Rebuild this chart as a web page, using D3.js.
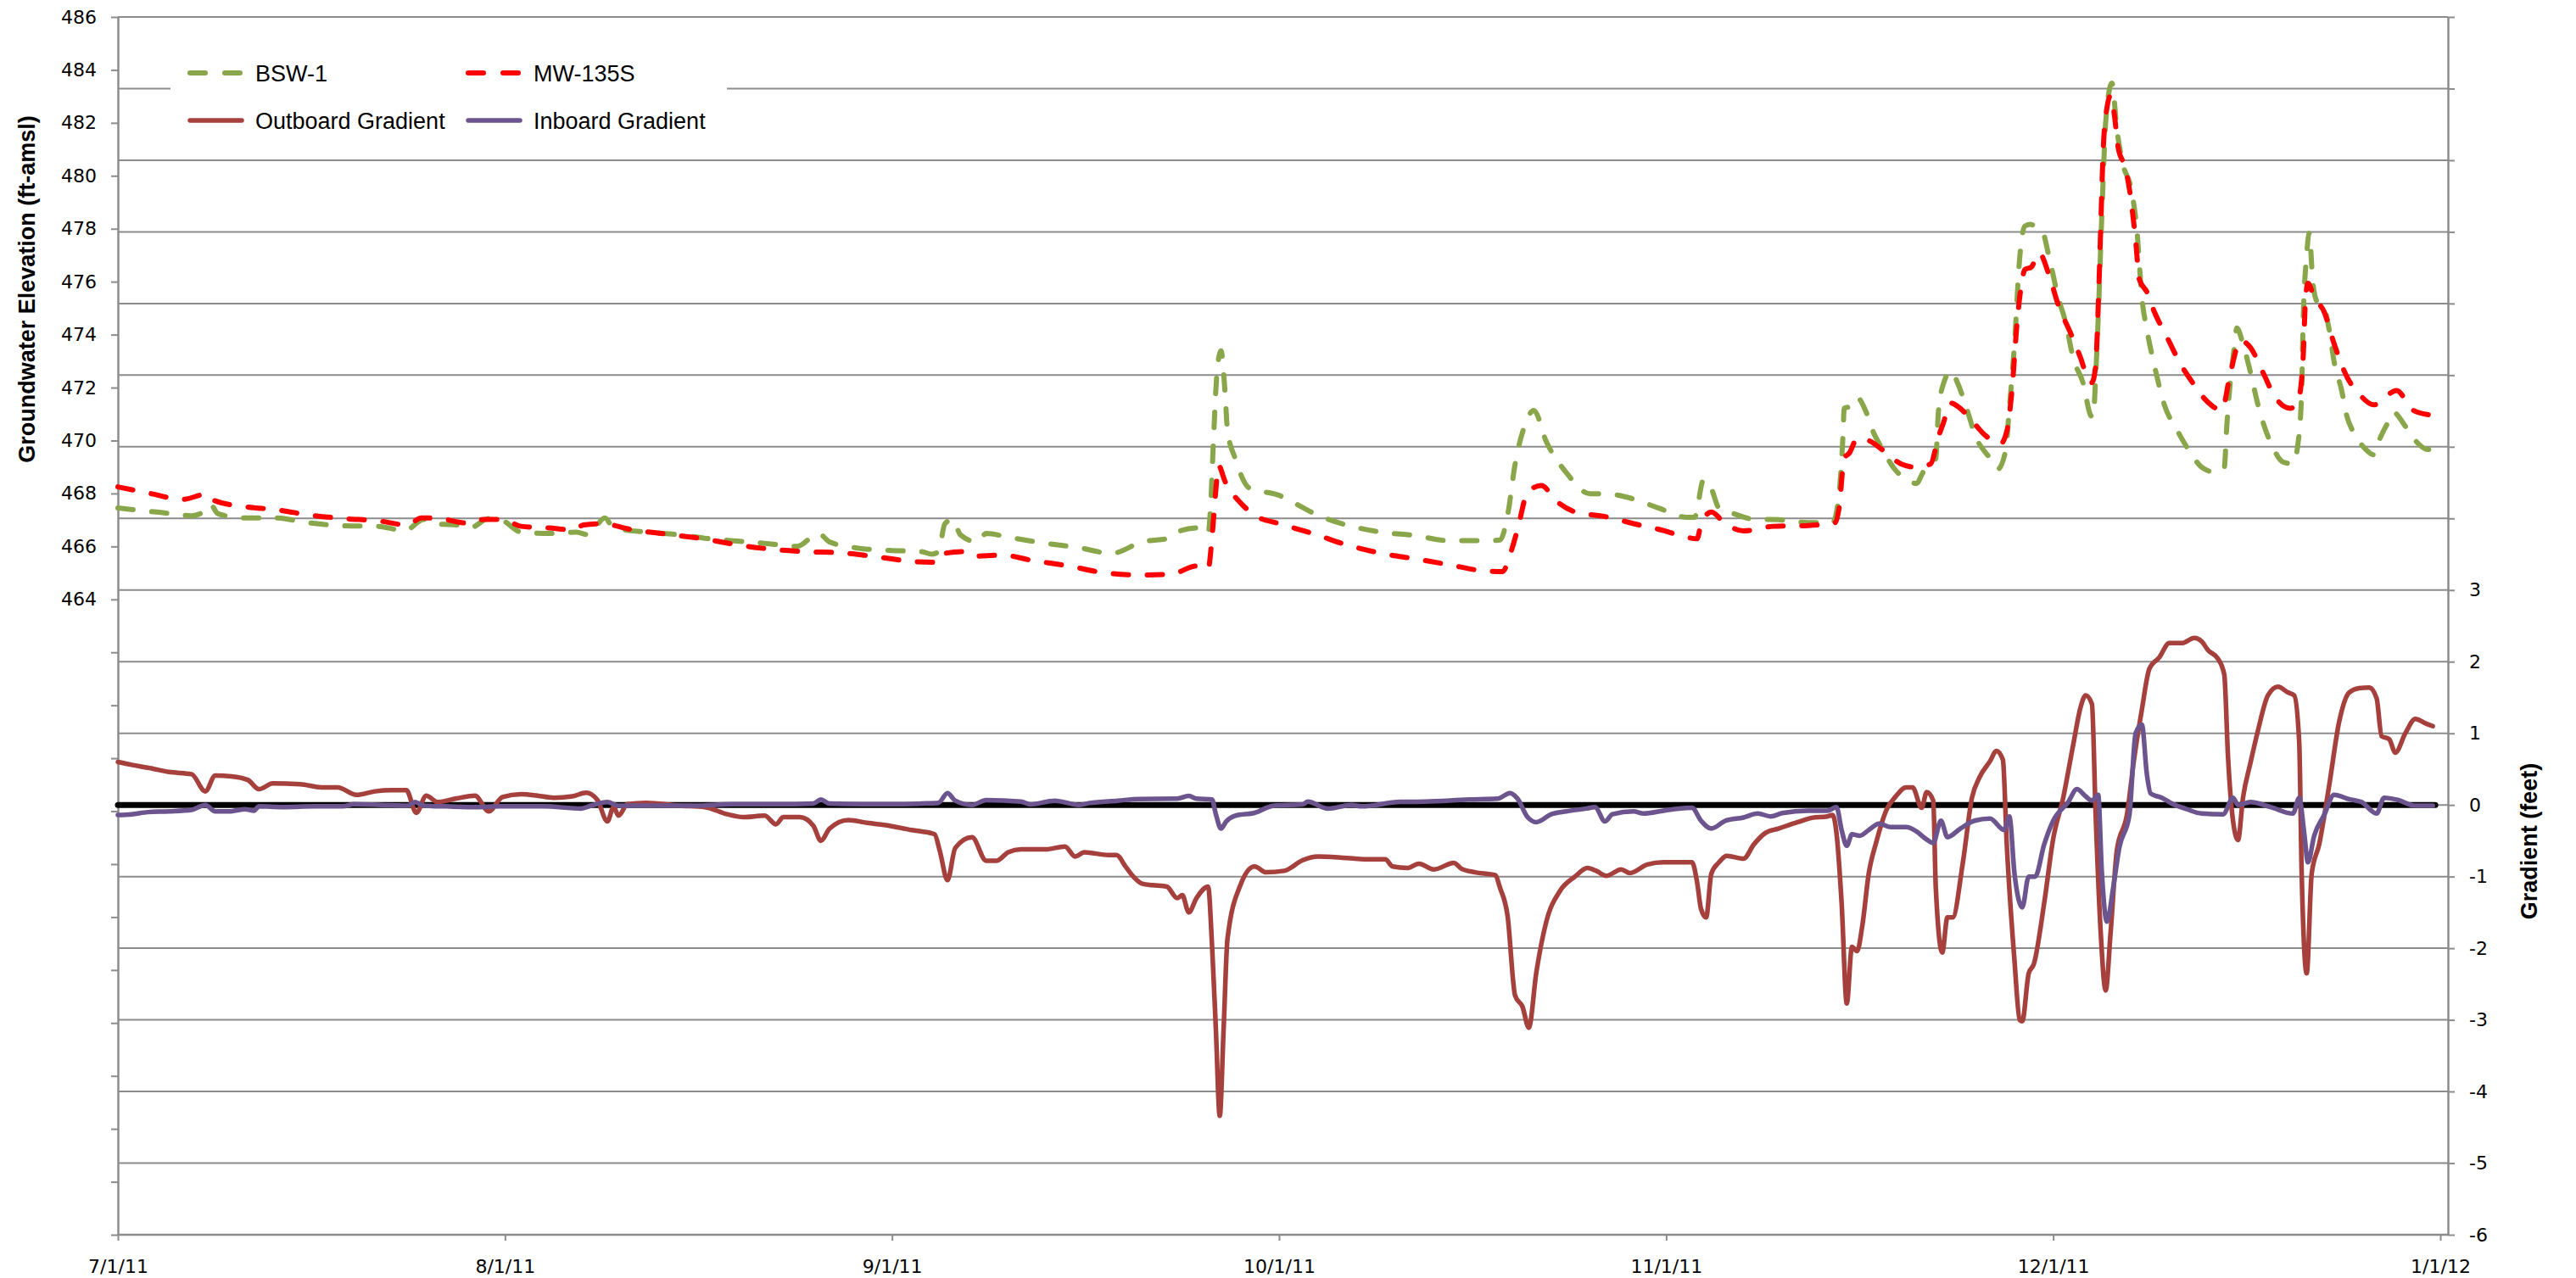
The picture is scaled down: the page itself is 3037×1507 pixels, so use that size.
<!DOCTYPE html>
<html>
<head>
<meta charset="utf-8">
<script src="https://cdn.jsdelivr.net/npm/d3@7"></script>
<style>
body { margin: 0; background: #fff; }
.tick text { font-family: "DejaVu Sans", Verdana, sans-serif; font-size: 22px; fill: #000; }
</style>
</head>
<body>
<div id="chart"></div>
<script>
// x categories (month labels) and axis tick values
var monthLabels = ["7/1/11", "8/1/11", "9/1/11", "10/1/11", "11/1/11", "12/1/11", "1/1/12"];
var elevTicks = d3.range(440, 487, 2);   // left axis, labelled from 464 up
var gradTicks = d3.range(-6, 12);        // right axis, labelled up to 3

// series: [days since 7/1/11, value]
var bswData = [[0,467.45],[3.3,467.29],[5.9,467.16],[6.8,467.29],[7.4,467.6],[8,467.24],[10,467.08],[12.4,467.08],[15.4,466.89],[18,466.78],[20.8,466.76],[23,466.6],[24.5,467.02],[25.2,466.86],[27.1,466.81],[28.2,466.7],[29.7,467.05],[30.6,467.02],[32.3,466.54],[34.5,466.49],[36.7,466.54],[37.7,466.44],[39,467.08],[39.7,466.7],[42.3,466.54],[44.9,466.44],[47,466.31],[49.6,466.2],[52,466.11],[54.4,466],[56.1,466.49],[57,466.17],[59.2,465.94],[61.8,465.85],[64.3,465.8],[65.1,465.71],[65.6,465.8],[66.1,466.86],[66.7,467.02],[67.3,466.44],[68.6,466.17],[69.3,466.49],[71.2,466.33],[73.9,466.12],[76.5,465.95],[79,465.74],[81.4,466.17],[83.7,466.33],[84.4,466.6],[85.8,466.7],[86.5,466.49],[86.7,467.6],[86.9,469.86],[87.2,472.64],[87.5,473.39],[87.8,471.89],[88,470.39],[88.6,469.32],[89.7,468.2],[92,467.93],[92.9,467.72],[95.1,467.18],[97.4,466.81],[100.2,466.54],[102.9,466.41],[105.6,466.22],[108.4,466.22],[109.7,466.24],[110.3,467.18],[110.9,469.1],[111.7,470.6],[112.4,471.14],[113.4,469.96],[115,468.79],[116.9,467.99],[118.1,467.99],[120.1,467.83],[122.4,467.45],[124.6,467.1],[125.2,467.1],[125.9,468.52],[126.5,468.18],[127.1,467.44],[128.2,467.24],[129.8,467.03],[131.7,467.01],[134,466.9],[135.9,466.9],[136.4,467.98],[136.7,470.14],[136.8,471.22],[137.4,471.29],[137.8,471.62],[138.5,471.08],[139.1,470.27],[139.7,469.73],[140.6,468.99],[141.4,468.59],[142.4,468.38],[142.9,468.79],[143.9,469.33],[144.1,471.08],[144.5,472.16],[145.1,472.63],[145.6,472.16],[146.2,471.35],[147,470.14],[148.1,469.33],[148.7,468.92],[149.3,469.6],[149.6,471.22],[150,473.65],[150.4,476.89],[150.8,478.1],[151.2,478.17],[151.6,478.1],[152.1,477.97],[152.7,476.89],[153.4,475.4],[154,474.46],[154.6,473.11],[155.4,472.16],[156,470.95],[156.2,470.88],[156.4,472.43],[156.6,474.59],[156.8,477.29],[157,479.86],[157.2,482.02],[157.7,483.5],[158.1,481.75],[158.6,480.4],[159.2,479.59],[159.7,477.97],[160.1,475.4],[160.5,474.19],[161.1,472.84],[161.9,471.35],[162.9,470.41],[164.1,469.46],[164.9,468.99],[166.1,468.79],[166.7,468.99],[166.9,470.54],[167.2,472.3],[167.5,473.51],[167.7,474.25],[168.2,473.65],[168.8,472.57],[169.4,471.35],[170,470.41],[170.6,469.73],[171.4,469.19],[172.2,469.12],[172.6,469.87],[172.9,471.89],[173,474.19],[173.3,477.02],[173.5,477.83],[173.8,475.94],[174.1,475.27],[174.7,475],[175.1,474.19],[175.5,472.97],[176.1,471.89],[176.5,470.95],[177.1,470.27],[177.9,469.73],[178.7,469.46],[179.1,470],[179.8,470.68],[180.2,471.08],[181.2,470.54],[182,470],[183,469.66],[183.6,469.66]];

var mwData = [[0,468.25],[2.4,468.02],[5.2,467.78],[7.2,467.99],[7.8,467.72],[10.2,467.5],[12.8,467.38],[15.4,467.18],[18.2,467.05],[20.8,466.97],[23.2,466.81],[24.3,467.08],[25.8,467.05],[28,466.88],[29.3,467.02],[30.8,467.02],[32.3,466.76],[34.5,466.7],[36.4,466.63],[37.3,466.81],[38.8,466.86],[41,466.65],[44,466.46],[47,466.28],[49.6,466.06],[52.7,465.88],[55.3,465.8],[57.9,465.76],[60.9,465.6],[63.9,465.42],[65.6,465.4],[66.1,465.74],[67.4,465.8],[68.2,465.63],[70.5,465.67],[72.9,465.47],[75.7,465.26],[78.4,465.01],[81.4,464.92],[83.7,464.96],[85.6,465.26],[86.5,465.15],[86.8,466.33],[87.1,468.15],[87.3,469.06],[87.8,468.47],[89.1,467.6],[90.1,467.18],[92,466.86],[94.7,466.49],[97.4,466.06],[100.2,465.74],[102.9,465.53],[105.6,465.31],[108,465.1],[109.9,465.05],[110.5,465.69],[111.1,466.65],[111.9,468.04],[113,468.3],[114.2,467.72],[115.8,467.29],[118.1,467.13],[120.4,466.86],[122.8,466.6],[124,466.43],[125.4,466.29],[125.7,466.83],[126.5,467.3],[127.5,466.9],[129,466.59],[131.3,466.76],[134,466.79],[136.1,466.9],[136.4,467.44],[136.8,469.33],[137.2,469.53],[137.8,470.07],[138.7,470],[139.7,469.67],[141.2,469.12],[142.4,468.99],[143.5,469.12],[144.1,470.14],[144.5,470.68],[145,471.42],[145.6,471.29],[146.6,470.81],[147.7,470.21],[148.9,469.87],[149.4,470.34],[149.8,471.89],[150.2,474.46],[150.6,476.08],[150.8,476.46],[151.3,476.55],[151.9,477.09],[152.7,476.21],[153.4,475.13],[154.4,474.05],[155.2,473.11],[155.8,472.3],[156.1,472.19],[156.4,472.84],[156.6,474.99],[156.8,477.97],[157,480.94],[157.3,482.56],[157.6,483.03],[157.9,482.29],[158.2,481.07],[158.8,480.26],[159.2,479.18],[159.6,477.56],[159.9,476.08],[160.5,475.61],[161.1,474.86],[162.1,473.92],[163.1,472.97],[164.1,472.23],[165.3,471.49],[166.5,471.15],[167.2,472.57],[168,473.78],[168.8,473.51],[169.8,472.57],[170.8,471.62],[172,471.22],[172.6,471.49],[173,472.97],[173.2,475.27],[173.4,475.94],[173.9,475.4],[174.7,474.86],[175.5,473.65],[176.5,472.43],[177.5,471.76],[178.7,471.35],[180.5,471.89],[181.8,471.15],[183.4,470.95]];

var outboardData = [[0,0.6],[1.1,0.56],[2.4,0.52],[4.1,0.46],[5.9,0.43],[7,0.19],[7.8,0.41],[9.1,0.4],[10.4,0.35],[11.3,0.22],[12.4,0.3],[14.6,0.29],[16.3,0.245],[17.6,0.245],[19.1,0.14],[20.6,0.19],[21.9,0.205],[23.1,0.205],[23.9,-0.11],[24.7,0.13],[25.6,0.04],[27.1,0.09],[28.6,0.13],[29.7,-0.09],[30.8,0.11],[32.3,0.15],[33.6,0.13],[34.9,0.1],[36.4,0.12],[37.5,0.17],[38.4,0.07],[39.2,-0.23],[39.7,-0.03],[40.1,-0.15],[40.8,0.01],[42.3,0.03],[44.9,-0.01],[47,-0.03],[48.8,-0.13],[50.1,-0.17],[51.8,-0.15],[52.7,-0.27],[53.3,-0.17],[54.6,-0.17],[55.7,-0.29],[56.3,-0.5],[57,-0.33],[58.5,-0.21],[60,-0.25],[61.8,-0.29],[63.5,-0.35],[64.3,-0.37],[65.3,-0.41],[65.7,-0.64],[66.3,-1.05],[66.9,-0.6],[68.2,-0.45],[69.3,-0.78],[70.1,-0.78],[71,-0.66],[72,-0.62],[73.9,-0.62],[75.4,-0.58],[76.2,-0.72],[76.9,-0.66],[78.8,-0.7],[79.4,-0.7],[80.1,-0.86],[80.7,-1],[81.4,-1.1],[82.2,-1.12],[83.3,-1.14],[84.1,-1.3],[84.5,-1.26],[85,-1.5],[85.6,-1.3],[86.5,-1.14],[86.8,-1.95],[87.1,-3.13],[87.4,-4.34],[87.7,-3.13],[88,-1.87],[89,-1.12],[90.1,-0.86],[91,-0.94],[92.4,-0.92],[93.9,-0.77],[95.1,-0.72],[97.4,-0.74],[99.4,-0.76],[100.5,-0.76],[101.1,-0.86],[102.3,-0.88],[103.2,-0.82],[104.4,-0.9],[106,-0.81],[106.6,-0.89],[107.7,-0.94],[109.3,-0.98],[109.7,-1.16],[110.3,-1.55],[110.9,-2.66],[111.5,-2.82],[112,-3.11],[112.6,-2.34],[113.4,-1.63],[114.5,-1.2],[115.7,-1],[116.7,-0.88],[117.4,-0.92],[118.2,-0.99],[119.4,-0.9],[120.1,-0.95],[121.5,-0.83],[122.8,-0.8],[124.3,-0.8],[125,-0.8],[125.4,-1.08],[125.7,-1.45],[126.1,-1.57],[126.5,-0.96],[127.1,-0.8],[127.7,-0.71],[129,-0.75],[129.8,-0.55],[130.7,-0.39],[131.7,-0.33],[133.2,-0.24],[134.3,-0.18],[135.5,-0.16],[135.9,-0.14],[136.2,-0.39],[136.6,-1.37],[137,-2.77],[137.4,-1.98],[137.8,-2.04],[138.2,-1.69],[138.7,-0.96],[139.3,-0.51],[140.1,-0.06],[140.8,0.12],[141.6,0.245],[142.1,0.245],[142.8,-0.04],[143.2,0.18],[143.7,0.06],[143.9,-1.16],[144.4,-2.06],[144.8,-1.57],[145.2,-1.57],[146,-0.8],[146.7,0.1],[147.3,0.39],[148.1,0.61],[148.6,0.755],[149.1,0.63],[149.4,-0.55],[150,-2.18],[150.4,-3],[150.6,-3.02],[151.1,-2.35],[151.5,-2.22],[152.3,-1.37],[153,-0.47],[153.8,0.1],[154.6,0.84],[155.2,1.37],[155.6,1.53],[156.1,1.41],[156.4,-0.14],[156.8,-1.77],[157.2,-2.59],[157.6,-1.77],[158.1,-0.63],[158.9,-0.14],[159.5,0.67],[160.1,1.33],[160.7,1.9],[161.5,2.06],[162.3,2.26],[163.3,2.26],[164.3,2.33],[164.9,2.28],[165.4,2.16],[166.2,2.04],[166.7,1.82],[167,0.67],[167.4,-0.22],[167.8,-0.49],[168.2,0.1],[168.8,0.59],[169.4,1.04],[170.2,1.53],[171,1.65],[171.8,1.57],[172.3,1.53],[172.7,0.88],[172.9,-0.96],[173.3,-2.35],[173.7,-0.96],[174.3,-0.55],[175.1,0.27],[175.9,1.16],[176.7,1.57],[177.5,1.63],[178.3,1.64],[178.9,1.49],[179.3,0.96],[179.9,0.92],[180.4,0.73],[181.2,1],[182,1.2],[182.8,1.14],[183.4,1.1]];

var inboardData = [[0,-0.14],[1.1,-0.13],[2.4,-0.1],[4.1,-0.09],[5.9,-0.07],[7,0],[7.8,-0.09],[8.9,-0.09],[10.2,-0.06],[10.9,-0.08],[11.3,-0.02],[13.2,-0.03],[15.8,-0.02],[18,-0.02],[18.9,0.01],[21.1,0],[23.2,-0.01],[23.8,0.04],[24.5,-0.01],[26.3,-0.02],[28.8,-0.03],[30.6,-0.02],[34.1,-0.02],[37.1,-0.05],[37.9,-0.01],[39.2,0.04],[40.1,-0.01],[42.7,-0.01],[46.2,-0.01],[49.2,0.01],[52.7,0.01],[55.7,0.02],[56.3,0.075],[57,0.02],[60,0.01],[62.2,0.01],[64.3,0.02],[65.6,0.03],[66.3,0.166],[66.9,0.06],[68.2,0],[69.3,0.067],[72,0.047],[72.7,0.008],[74.6,0.059],[76.5,0],[77.3,0.027],[79.5,0.059],[81.1,0.083],[84.1,0.087],[85,0.126],[85.6,0.087],[86.8,0.075],[87.1,-0.13],[87.5,-0.33],[87.9,-0.23],[88.6,-0.15],[90.1,-0.11],[91.6,-0.01],[93.9,0.008],[94.3,0.047],[95.9,-0.051],[97.8,0],[98.6,-0.02],[101.7,0.043],[103.7,0.047],[107.2,0.075],[109.5,0.087],[110.5,0.166],[111.1,0.087],[111.9,-0.17],[112.6,-0.24],[113.8,-0.13],[115,-0.09],[116.6,-0.05],[117.3,-0.03],[118.1,-0.23],[118.7,-0.13],[120.4,-0.09],[121.2,-0.12],[122.8,-0.08],[124,-0.05],[125,-0.04],[125.7,-0.22],[126.5,-0.33],[127.6,-0.22],[129,-0.175],[130.1,-0.12],[131.1,-0.16],[132,-0.114],[134,-0.08],[135.5,-0.08],[136.2,-0.03],[136.6,-0.35],[137,-0.57],[137.4,-0.41],[138,-0.43],[138.7,-0.35],[139.5,-0.26],[140.4,-0.31],[141.6,-0.31],[142.4,-0.37],[143.1,-0.47],[143.7,-0.53],[144.3,-0.22],[144.8,-0.45],[145.8,-0.33],[146.9,-0.22],[148.1,-0.19],[149.2,-0.35],[149.6,-0.16],[150,-0.96],[150.6,-1.43],[151.1,-1],[151.6,-1],[152.3,-0.55],[153,-0.22],[154.2,0.04],[154.9,0.22],[155.6,0.12],[156.1,0.06],[156.6,0.14],[156.9,-0.96],[157.3,-1.63],[157.8,-1.16],[158.3,-0.59],[159.1,-0.14],[159.6,1],[160.1,1.12],[160.5,0.43],[160.8,0.16],[161.7,0.1],[162.5,0.02],[163.7,-0.06],[164.9,-0.12],[166.6,-0.13],[167.4,0.1],[167.8,0],[168.8,0.04],[170.4,-0.03],[172.2,-0.12],[172.7,0.1],[173.1,-0.39],[173.4,-0.8],[173.9,-0.43],[174.7,-0.14],[175.5,0.14],[176.7,0.08],[177.7,0.04],[178.9,-0.12],[179.5,0.1],[180.6,0.07],[182,-0.01],[183.4,-0.01]];

var zeroData = [[0,0],[183.6,0]];

var W = 3037, H = 1507;
var plotLeft = 139, plotRight = 2886, plotTop = 20, plotBottom = 1456;
var lastTickX = 2877;
var gridColor = "#8c8c8c";

var parseMonth = d3.timeParse("%m/%d/%y");
var monthDates = monthLabels.map(parseMonth);
var startDate = monthDates[0];
function dayToDate(d) { return new Date(startDate.getTime() + d * 864e5); }

var x = d3.scaleTime()
  .domain(monthDates)
  .range(monthDates.map(function(d, i) { return plotLeft + i * (lastTickX - plotLeft) / (monthDates.length - 1); }));
var yL = d3.scaleLinear().domain([440, 486]).range([plotBottom, plotTop]);
var yR = d3.scaleLinear().domain([-6, 11]).range([plotBottom, plotTop]);

var svg = d3.select("#chart").append("svg")
  .attr("width", W)
  .attr("height", H)
  .style("display", "block");

svg.append("rect").attr("width", W).attr("height", H).attr("fill", "#fff");

// horizontal gridlines follow the gradient axis
svg.append("g").selectAll("line")
  .data(gradTicks.filter(function(d) { return d > -6; }))
  .enter().append("line")
  .attr("x1", plotLeft).attr("x2", plotRight)
  .attr("y1", function(d) { return yR(d); })
  .attr("y2", function(d) { return yR(d); })
  .attr("stroke", gridColor)
  .attr("stroke-width", 2);

function styleAxis(g) {
  g.select(".domain").attr("stroke", gridColor).attr("stroke-width", 2.5);
  g.selectAll(".tick line").attr("stroke", gridColor).attr("stroke-width", 2);
}

svg.append("g")
  .attr("transform", "translate(" + plotLeft + ",0)")
  .call(d3.axisLeft(yL).tickValues(elevTicks).tickSize(8).tickSizeOuter(0).tickPadding(17)
    .tickFormat(function(d) { return d >= 464 ? String(d) : ""; }))
  .call(styleAxis);

svg.append("g")
  .attr("transform", "translate(" + plotRight + ",0)")
  .call(d3.axisRight(yR).tickValues(gradTicks).tickSize(8).tickSizeOuter(0).tickPadding(17)
    .tickFormat(function(d) { return d <= 3 ? String(d) : ""; }))
  .call(styleAxis);

var xAxis = svg.append("g")
  .attr("transform", "translate(0," + plotBottom + ")")
  .call(d3.axisBottom(x).tickValues(monthDates).tickSize(7).tickSizeOuter(0).tickPadding(22)
    .tickFormat(function(d, i) { return monthLabels[i]; }))
  .call(styleAxis);
xAxis.select(".domain").attr("d", "M" + plotLeft + ",0H" + plotRight);

function lineFor(yScale) {
  return d3.line()
    .x(function(d) { return x(dayToDate(d[0])); })
    .y(function(d) { return yScale(d[1]); })
    .curve(d3.curveMonotoneX);
}

var series = [
  { name: "BSW-1", data: bswData, y: yL, color: "#8aa64a", width: 6, dash: "18,22" },
  { name: "MW-135S", data: mwData, y: yL, color: "#ff0000", width: 6, dash: "18,22" },
  { name: "zero", data: zeroData, y: yR, color: "#000000", width: 7, dash: null },
  { name: "Outboard Gradient", data: outboardData, y: yR, color: "#a5403c", width: 5.5, dash: null },
  { name: "Inboard Gradient", data: inboardData, y: yR, color: "#6c548f", width: 5.5, dash: null }
];

svg.append("g").selectAll("path")
  .data(series)
  .enter().append("path")
  .attr("d", function(s) { return lineFor(s.y)(s.data); })
  .attr("fill", "none")
  .attr("stroke", function(s) { return s.color; })
  .attr("stroke-width", function(s) { return s.width; })
  .attr("stroke-dasharray", function(s) { return s.dash; })
  .attr("stroke-linecap", "round")
  .attr("stroke-linejoin", "round");

// legend
var legendItems = series.filter(function(s) { return s.name !== "zero"; });
var legend = svg.append("g");
legend.append("rect")
  .attr("x", 201).attr("y", 55).attr("width", 656).attr("height", 117)
  .attr("fill", "#fff");
var li = legend.selectAll("g.item")
  .data(legendItems)
  .enter().append("g")
  .attr("transform", function(s, i) { return "translate(" + (i % 2 ? 552 : 224) + "," + (i < 2 ? 86 : 142) + ")"; });
li.append("line")
  .attr("x1", 0).attr("x2", 61)
  .attr("stroke", function(s) { return s.color; })
  .attr("stroke-width", function(s) { return s.width; })
  .attr("stroke-dasharray", function(s) { return s.dash ? "18,23" : null; })
  .attr("stroke-linecap", "round");
li.append("text")
  .attr("x", 77).attr("dy", "0.36em")
  .style("font-family", "'Liberation Sans Narrow', 'Arial Narrow', 'Liberation Sans', sans-serif")
  .style("font-size", "27px")
  .text(function(s) { return s.name; });

// axis titles
svg.append("text")
  .attr("transform", "translate(32,341) rotate(-90)")
  .attr("text-anchor", "middle").attr("dy", "0.35em")
  .style("font-family", "'Liberation Sans Narrow', 'Arial Narrow', 'Liberation Sans', sans-serif")
  .style("font-size", "27px").style("font-weight", "bold")
  .text("Groundwater Elevation (ft-amsl)");

svg.append("text")
  .attr("transform", "translate(2982,992) rotate(-90)")
  .attr("text-anchor", "middle").attr("dy", "0.35em")
  .style("font-family", "'Liberation Sans Narrow', 'Arial Narrow', 'Liberation Sans', sans-serif")
  .style("font-size", "27px").style("font-weight", "bold")
  .text("Gradient (feet)");
</script>
</body>
</html>
